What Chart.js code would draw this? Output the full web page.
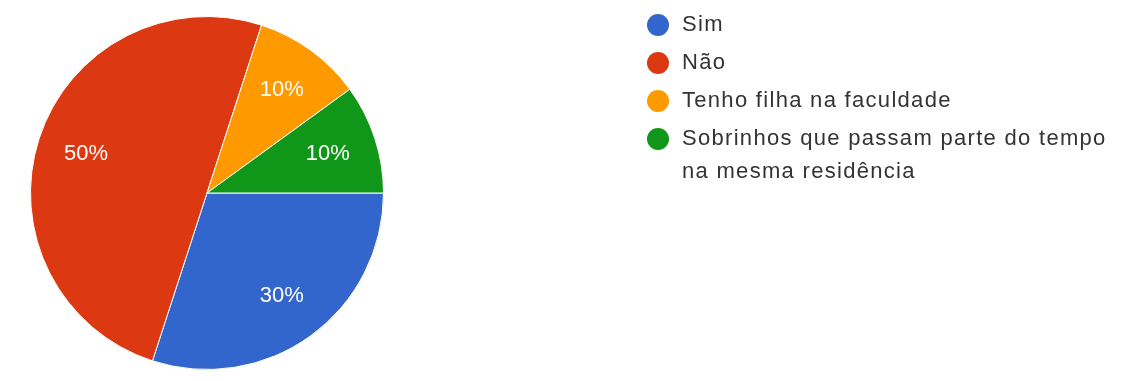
<!DOCTYPE html>
<html>
<head>
<meta charset="utf-8">
<style>
  html, body { margin: 0; padding: 0; background: #fff; }
  #wrap { width: 1121px; height: 381px; position: relative; }
</style>
<script src="https://cdn.jsdelivr.net/npm/chart.js@4.4.1/dist/chart.umd.min.js"></script>
</head>
<body>
<div id="wrap"><canvas id="pie"></canvas></div>
<script>
const labels = [
  'Sim',
  'Não',
  'Tenho filha na faculdade',
  ['Sobrinhos que passam parte do tempo', 'na mesma residência']
];
const values = [30, 50, 10, 10];
const colors = ['#3366cc', '#dc3912', '#ff9900', '#109618'];

const FONT = '"Liberation Sans", Arial, sans-serif';

// percentage text inside each slice
const sliceText = {
  id: 'sliceText',
  afterDatasetsDraw(chart) {
    const ctx = chart.ctx;
    const meta = chart.getDatasetMeta(0);
    const total = values.reduce((a, b) => a + b, 0);
    ctx.save();
    ctx.font = '22px ' + FONT;
    ctx.fillStyle = '#ffffff';
    ctx.textAlign = 'center';
    ctx.textBaseline = 'middle';
    meta.data.forEach((arc, i) => {
      const mid = (arc.startAngle + arc.endAngle) / 2;
      const r = arc.outerRadius * 0.72;
      const pct = Math.round(values[i] / total * 100) + '%';
      ctx.fillText(pct, arc.x + Math.cos(mid) * r, arc.y + Math.sin(mid) * r);
    });
    ctx.restore();
  }
};

// legend list on the right, long label wraps to two lines
const sideLegend = {
  id: 'sideLegend',
  afterDraw(chart) {
    const ctx = chart.ctx;
    const x0 = 658;
    let y = 25;
    ctx.save();
    ctx.font = '22px ' + FONT;
    ctx.letterSpacing = '1.3px';
    ctx.textBaseline = 'middle';
    labels.forEach((lab, i) => {
      ctx.fillStyle = colors[i];
      ctx.beginPath();
      ctx.arc(x0, y, 11, 0, Math.PI * 2);
      ctx.fill();
      ctx.fillStyle = '#333333';
      const lines = Array.isArray(lab) ? lab : [lab];
      lines.forEach((ln, k) => ctx.fillText(ln, 682, y + k * 33));
      y += 38;
    });
    ctx.restore();
  }
};

new Chart(document.getElementById('pie'), {
  type: 'pie',
  data: {
    labels: labels,
    datasets: [{
      data: values,
      backgroundColor: colors,
      borderColor: '#ffffff',
      borderWidth: 1
    }]
  },
  options: {
    responsive: true,
    maintainAspectRatio: false,
    animation: false,
    rotation: 90,
    layout: { padding: { left: 30, right: 737, top: 16, bottom: 11 } },
    plugins: {
      legend: { display: false },
      tooltip: { enabled: false }
    }
  },
  plugins: [sliceText, sideLegend]
});
</script>
</body>
</html>
